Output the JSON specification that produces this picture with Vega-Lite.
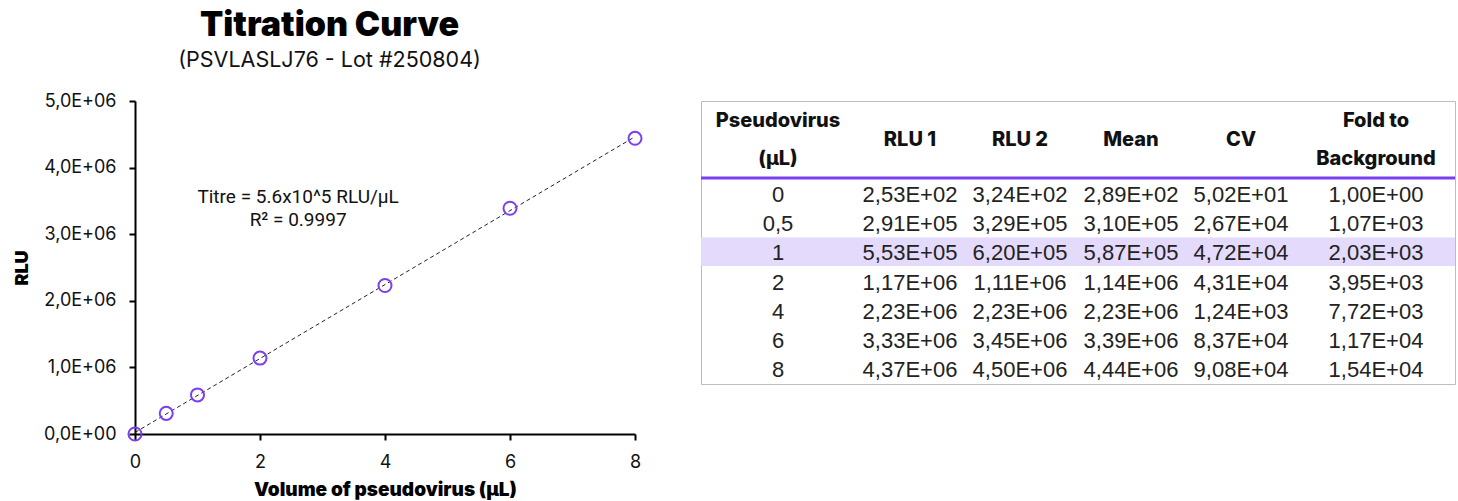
{
  "$schema": "https://vega.github.io/schema/vega-lite/v6.json",
  "background": "white",
  "padding": {"left": 13, "top": 8, "right": 4, "bottom": 4},
  "bounds": "flush",
  "spacing": 66,
  "config": {"font": "Inter", "view": {"stroke": null}},
  "datasets": {
    "titration": [
      {"row": 0, "vol": 0, "v": "0", "r1": "2,53E+02", "r2": "3,24E+02", "m": "2,89E+02", "mean": 289, "cv": "5,02E+01", "f": "1,00E+00"},
      {"row": 1, "vol": 0.5, "v": "0,5", "r1": "2,91E+05", "r2": "3,29E+05", "m": "3,10E+05", "mean": 310000, "cv": "2,67E+04", "f": "1,07E+03"},
      {"row": 2, "vol": 1, "v": "1", "r1": "5,53E+05", "r2": "6,20E+05", "m": "5,87E+05", "mean": 587000, "cv": "4,72E+04", "f": "2,03E+03"},
      {"row": 3, "vol": 2, "v": "2", "r1": "1,17E+06", "r2": "1,11E+06", "m": "1,14E+06", "mean": 1140000, "cv": "4,31E+04", "f": "3,95E+03"},
      {"row": 4, "vol": 4, "v": "4", "r1": "2,23E+06", "r2": "2,23E+06", "m": "2,23E+06", "mean": 2230000, "cv": "1,24E+03", "f": "7,72E+03"},
      {"row": 5, "vol": 6, "v": "6", "r1": "3,33E+06", "r2": "3,45E+06", "m": "3,39E+06", "mean": 3390000, "cv": "8,37E+04", "f": "1,17E+04"},
      {"row": 6, "vol": 8, "v": "8", "r1": "4,37E+06", "r2": "4,50E+06", "m": "4,44E+06", "mean": 4440000, "cv": "9,08E+04", "f": "1,54E+04"}
    ],
    "fit": [
      {"vol": 0, "rlu": 23000},
      {"vol": 8, "rlu": 4464000}
    ],
    "headers1": [
      {"c": 1, "h": "RLU 1"},
      {"c": 2, "h": "RLU 2"},
      {"c": 3, "h": "Mean"},
      {"c": 4, "h": "CV"}
    ],
    "headers2": [
      {"c": 0, "h": "Pseudovirus\n(µL)"},
      {"c": 5, "h": "Fold to\nBackground"}
    ]
  },
  "hconcat": [
    {
      "width": 500,
      "height": 333,
      "title": {
        "text": "Titration Curve",
        "subtitle": "(PSVLASLJ76 - Lot #250804)",
        "anchor": "middle",
        "frame": "bounds",
        "font": "Inter",
        "fontSize": 34,
        "fontWeight": 900,
        "color": "#000",
        "subtitleFont": "Inter",
        "subtitleFontSize": 21.5,
        "subtitleColor": "#111",
        "subtitlePadding": 7,
        "offset": 21
      },
      "layer": [
        {
          "data": {"name": "fit"},
          "mark": {"type": "line", "color": "#222", "strokeWidth": 1, "strokeDash": [4, 3]},
          "encoding": {
            "x": {"field": "vol", "type": "quantitative", "title": "Volume of pseudovirus (µL)"},
            "y": {"field": "rlu", "type": "quantitative", "title": "RLU"}
          }
        },
        {
          "data": {"name": "titration"},
          "mark": {"type": "point", "filled": false, "size": 170, "strokeWidth": 2, "color": "#7b3ff2", "opacity": 1},
          "encoding": {
            "x": {
              "field": "vol", "type": "quantitative", "title": "Volume of pseudovirus (µL)",
              "scale": {"domain": [0, 8], "nice": false},
              "axis": {
                "values": [0, 2, 4, 6, 8], "format": "d", "grid": false, "labelFlush": false,
                "domainColor": "#000", "domainWidth": 2, "tickColor": "#000", "tickWidth": 2, "tickSize": 6,
                "labelFont": "Inter", "labelFontSize": 18, "labelColor": "#111", "labelPadding": 13, "labelAngle": 0,
                "titleFont": "Inter", "titleFontSize": 19, "titleFontWeight": 900, "titleColor": "#000", "titlePadding": 9
              }
            },
            "y": {
              "field": "mean", "type": "quantitative", "title": "RLU",
              "scale": {"domain": [0, 5000000], "nice": false},
              "axis": {
                "values": [0, 1000000, 2000000, 3000000, 4000000, 5000000], "grid": false, "labelFlush": false,
                "labelExpr": "datum.value == 0 ? '0,0E+00' : replace(format(datum.value / 1000000, '.1f'), '.', ',') + 'E+06'",
                "domainColor": "#000", "domainWidth": 2, "tickColor": "#000", "tickWidth": 2, "tickSize": 6,
                "labelFont": "Inter", "labelFontSize": 18, "labelColor": "#111", "labelPadding": 13,
                "titleFont": "Inter", "titleFontSize": 18, "titleFontWeight": 900, "titleColor": "#000", "titlePadding": 12
              }
            }
          }
        },
        {
          "data": {"values": [{"label": ["Titre = 5.6x10^5 RLU/µL", "R² = 0.9997"]}]},
          "mark": {"type": "text", "font": "Roboto", "fontSize": 19, "lineHeight": 23, "align": "center", "baseline": "middle", "color": "#111", "dy": -11},
          "encoding": {
            "x": {"datum": 2.61, "type": "quantitative"},
            "y": {"datum": 3390000, "type": "quantitative"},
            "text": {"field": "label"}
          }
        }
      ]
    },
    {
      "width": 754,
      "height": 283,
      "view": {"stroke": "#bdbdbd", "strokeWidth": 1},
      "layer": [
        {
          "data": {"values": [{}]},
          "mark": {"type": "rect", "color": "#e4dafc"},
          "encoding": {
            "y": {"datum": 1.46, "type": "quantitative", "scale": {"domain": [-3.223, 6.479], "reverse": true, "nice": false, "zero": false}, "axis": null},
            "y2": {"datum": 2.43}
          }
        },
        {
          "data": {"values": [{}]},
          "mark": {"type": "rule", "color": "#7b3ff2", "strokeWidth": 3},
          "encoding": {
            "y": {"datum": -0.583, "type": "quantitative"}
          }
        },
        {
          "data": {"name": "headers1"},
          "mark": {"type": "text", "font": "Inter", "fontWeight": 800, "fontSize": 20, "align": "center", "baseline": "middle", "color": "#111"},
          "encoding": {
            "x": {"field": "c", "type": "quantitative", "scale": {"domain": [0, 1, 2, 3, 4, 5], "range": [77, 209, 319, 430, 540, 675]}, "axis": null},
            "y": {"datum": -1.886, "type": "quantitative"},
            "text": {"field": "h"}
          }
        },
        {
          "data": {"name": "headers2"},
          "mark": {"type": "text", "font": "Inter", "fontWeight": 800, "fontSize": 20, "lineHeight": 38, "lineBreak": "\n", "align": "center", "baseline": "middle", "color": "#111", "dy": -19},
          "encoding": {
            "x": {"field": "c", "type": "quantitative"},
            "y": {"datum": -1.886, "type": "quantitative"},
            "text": {"field": "h"}
          }
        },
        {
          "data": {"name": "titration"},
          "mark": {"type": "text", "font": "Liberation Sans Narrow, Liberation Sans", "fontSize": 22, "align": "center", "baseline": "middle", "color": "#222"},
          "encoding": {"x": {"datum": 0, "type": "quantitative"}, "y": {"field": "row", "type": "quantitative"}, "text": {"field": "v"}}
        },
        {
          "data": {"name": "titration"},
          "mark": {"type": "text", "font": "Liberation Sans Narrow, Liberation Sans", "fontSize": 22, "align": "center", "baseline": "middle", "color": "#222"},
          "encoding": {"x": {"datum": 1, "type": "quantitative"}, "y": {"field": "row", "type": "quantitative"}, "text": {"field": "r1"}}
        },
        {
          "data": {"name": "titration"},
          "mark": {"type": "text", "font": "Liberation Sans Narrow, Liberation Sans", "fontSize": 22, "align": "center", "baseline": "middle", "color": "#222"},
          "encoding": {"x": {"datum": 2, "type": "quantitative"}, "y": {"field": "row", "type": "quantitative"}, "text": {"field": "r2"}}
        },
        {
          "data": {"name": "titration"},
          "mark": {"type": "text", "font": "Liberation Sans Narrow, Liberation Sans", "fontSize": 22, "align": "center", "baseline": "middle", "color": "#222"},
          "encoding": {"x": {"datum": 3, "type": "quantitative"}, "y": {"field": "row", "type": "quantitative"}, "text": {"field": "m"}}
        },
        {
          "data": {"name": "titration"},
          "mark": {"type": "text", "font": "Liberation Sans Narrow, Liberation Sans", "fontSize": 22, "align": "center", "baseline": "middle", "color": "#222"},
          "encoding": {"x": {"datum": 4, "type": "quantitative"}, "y": {"field": "row", "type": "quantitative"}, "text": {"field": "cv"}}
        },
        {
          "data": {"name": "titration"},
          "mark": {"type": "text", "font": "Liberation Sans Narrow, Liberation Sans", "fontSize": 22, "align": "center", "baseline": "middle", "color": "#222"},
          "encoding": {"x": {"datum": 5, "type": "quantitative"}, "y": {"field": "row", "type": "quantitative"}, "text": {"field": "f"}}
        }
      ]
    }
  ]
}
